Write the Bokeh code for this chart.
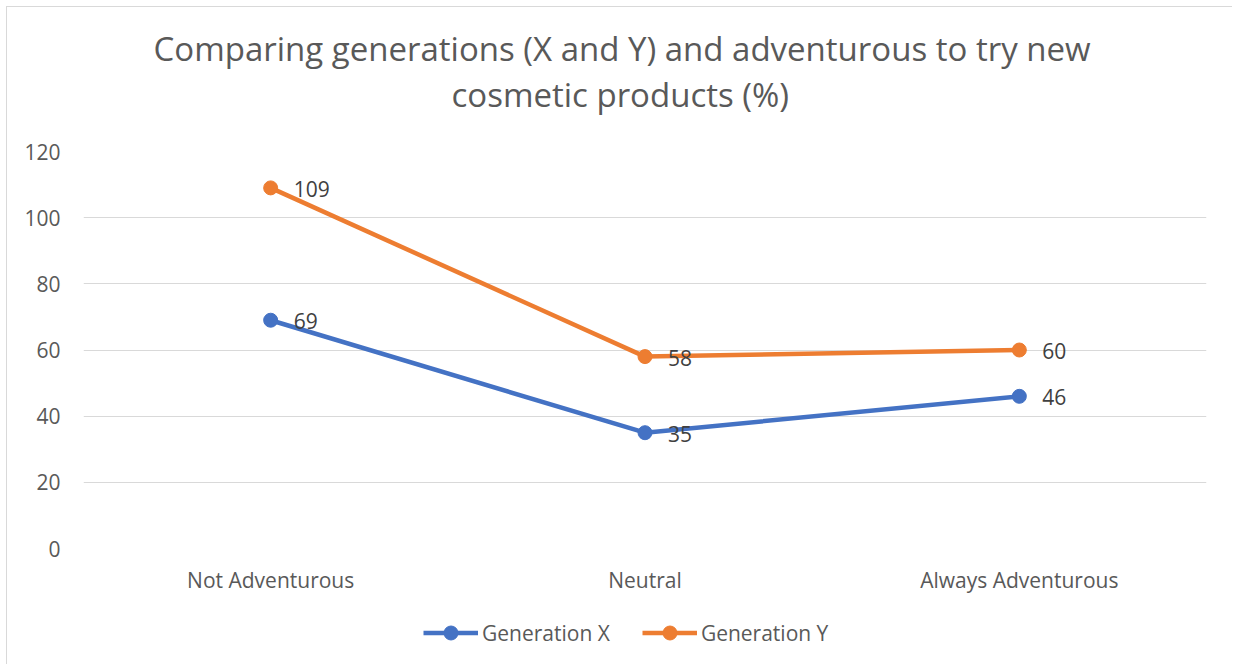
from bokeh.plotting import figure
from bokeh.layouts import column
from bokeh.models import (ColumnDataSource, Range1d, FactorRange, Title, Legend,
                          LegendItem)
from bokeh.core.properties import value
from bokeh.embed import file_html
from bokeh.resources import INLINE

categories = ["Not Adventurous", "Neutral", "Always Adventurous"]
gen_x = [69, 35, 46]
gen_y = [109, 58, 60]
series_names = ["Generation X", "Generation Y"]
title_lines = ["Comparing generations (X and Y)  and adventurous to try new",
               "cosmetic products (%)"]
y_ticks = [0, 20, 40, 60, 80, 100, 120]

FONT = "Open Sans"
BLUE = "#4472C4"
ORANGE = "#ED7D31"
TXT = "#595959"
colors = [BLUE, ORANGE]
series = [gen_x, gen_y]

W = 1225
p = figure(width=W, height=593, x_range=FactorRange(*categories, range_padding=0),
           y_range=Range1d(0, 120), output_backend="svg", toolbar_location=None,
           min_border_left=76, min_border_right=26, min_border_top=144,
           min_border_bottom=52)
p.x_range.factor_padding = 0
p.outline_line_color = None
p.background_fill_color = "white"
p.border_fill_color = "white"

p.xgrid.grid_line_color = None
p.ygrid.grid_line_color = "#D9D9D9"
p.ygrid.grid_line_width = 1
p.yaxis.ticker = y_ticks

for ax in (p.xaxis, p.yaxis):
    ax.axis_line_color = None
    ax.major_tick_line_color = None
    ax.minor_tick_line_color = None
    ax.major_label_text_font = FONT
    ax.major_label_text_font_size = "21px"
    ax.major_label_text_color = TXT
p.yaxis.major_label_standoff = 17
p.xaxis.major_label_standoff = 11

for vals, col in zip(series, colors):
    src = ColumnDataSource(dict(x=categories, y=vals, lab=[str(v) for v in vals]))
    p.line("x", "y", source=src, line_color=col, line_width=4.5)
    p.scatter("x", "y", source=src, size=14, fill_color=col, line_color=col)
    p.text("x", "y", text="lab", source=src, x_offset=23, y_offset=1,
           text_font=value(FONT), text_font_size="21px", text_color="#404040",
           text_baseline="middle", text_align="left")

# second line is added first: later titles stack further from the plot
for txt, off, so in ((title_lines[1], 368, 69), (title_lines[0], 70, -71)):
    p.add_layout(Title(text=txt, align="left", offset=off, standoff=so,
                       text_font=FONT, text_font_size="33px", text_color=TXT,
                       text_font_style="normal"), "above")

# legend strip below the chart (its glyphs sit outside the visible y range)
lg = figure(width=W, height=64, x_range=FactorRange(*categories),
            y_range=Range1d(1000, 1001), output_backend="svg",
            toolbar_location=None, x_axis_type=None, y_axis_type=None,
            min_border_left=76, min_border_right=26, min_border_top=0,
            min_border_bottom=0)
lg.outline_line_color = None
lg.background_fill_color = "white"
lg.border_fill_color = "white"
lg.xgrid.visible = False
lg.ygrid.visible = False
items = []
for name, vals, col in zip(series_names, series, colors):
    src = ColumnDataSource(dict(x=categories, y=vals))
    r1 = lg.line("x", "y", source=src, line_color=col, line_width=4.5)
    r2 = lg.scatter("x", "y", source=src, size=14, fill_color=col, line_color=col)
    items.append(LegendItem(label=name, renderers=[r1, r2]))
legend = Legend(items=items, orientation="horizontal", location=(340, 14),
                label_text_font=FONT, label_text_font_size="21px",
                label_text_color=TXT, glyph_width=55, glyph_height=35,
                label_standoff=4, spacing=32, padding=0, margin=0,
                border_line_color=None, background_fill_alpha=0)
lg.add_layout(legend)

layout = column(p, lg, spacing=0)
layout.styles = {"margin-left": "6px", "margin-top": "6px",
                 "border-left": "1px solid #D9D9D9", "border-top": "1px solid #D9D9D9"}

open("out.html", "w").write(file_html(layout, INLINE))
